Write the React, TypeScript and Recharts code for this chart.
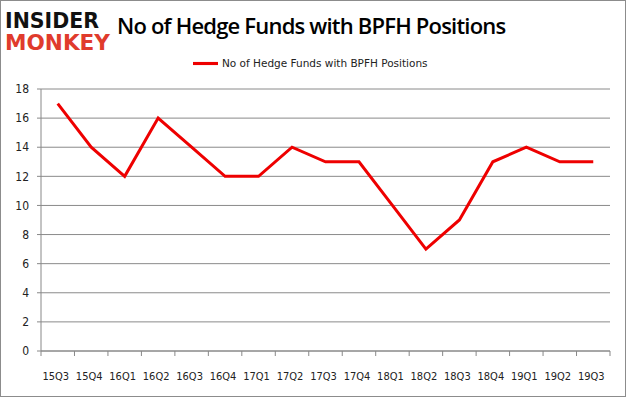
import React from 'react';
import { LineChart, Line, XAxis, YAxis, CartesianGrid, Legend } from 'recharts';

const quarters = ['15Q3', '15Q4', '16Q1', '16Q2', '16Q3', '16Q4', '17Q1', '17Q2', '17Q3', '17Q4', '18Q1', '18Q2', '18Q3', '18Q4', '19Q1', '19Q2', '19Q3'];
const funds = [17, 14, 12, 16, 14, 12, 12, 14, 13, 13, 10, 7, 9, 13, 14, 13, 13];
const yTicks = [0, 2, 4, 6, 8, 10, 12, 14, 16, 18];
const seriesName = 'No of Hedge Funds with BPFH Positions';

const data = quarters.map((q, i) => ({ q, value: funds[i] }));

const STEP = (610 - 41) / quarters.length;

const QuarterTick = (props: any) => {
  const { x, y, payload, index } = props;
  const left = x - STEP / 2;
  return (
    <g>
      <line x1={left} x2={left} y1={y - 8} y2={y - 3} stroke="#888" />
      {index === quarters.length - 1 && (
        <line x1={x + STEP / 2} x2={x + STEP / 2} y1={y - 8} y2={y - 3} stroke="#888" />
      )}
      <text x={x - 2} y={y + 21} textAnchor="middle" fontSize={11} fill="#222" fontFamily="DejaVu Sans Condensed, DejaVu Sans">
        {payload.value}
      </text>
    </g>
  );
};

const App: React.FC = () => {
  return (
    <div style={{ position: 'absolute', left: 0, top: 0, width: 626, height: 397, background: '#fff', fontFamily: 'Noto Sans, sans-serif' }}>
      <div style={{ position: 'absolute', left: 0, top: 0, width: 624, height: 395, border: '1px solid #8c8c8c' }} />
      <svg style={{ position: 'absolute', left: 0, top: 0 }} width={160} height={64}>
        <text x={5} y={28} fontFamily="DejaVu Sans" fontWeight={900} fontSize={22} fill="#111" textLength={94} lengthAdjust="spacingAndGlyphs">
          INSIDER
        </text>
        <text x={5} y={50} fontFamily="DejaVu Sans" fontWeight={900} fontSize={21} fill="#e03b2c" textLength={105} lengthAdjust="spacingAndGlyphs">
          MONKEY
        </text>
      </svg>
      <div style={{ position: 'absolute', left: 117, top: 10, fontFamily: 'Open Sans', fontWeight: 600, fontSize: 22, lineHeight: '30px', color: '#000', whiteSpace: 'nowrap', letterSpacing: -0.8 }}>
        No of Hedge Funds with BPFH Positions
      </div>
      <LineChart width={626} height={397} data={data} margin={{ top: 71, right: 16, left: 0, bottom: 16 }}>
        <CartesianGrid vertical={false} stroke="#8a8a8a" />
        <XAxis
          dataKey="q"
          scale="band"
          height={30}
          stroke="#888"
          tickLine={false}
          tick={<QuarterTick />}
          interval={0}
        />
        <YAxis
          width={41}
          domain={[0, 18]}
          ticks={yTicks}
          stroke="#888"
          tickSize={4}
          tickMargin={8}
          tick={{ fontSize: 12, fill: '#222', fontFamily: 'DejaVu Sans Condensed, DejaVu Sans' }}
          interval={0}
        />
        <Legend
          verticalAlign="top"
          align="left"
          iconType="plainline"
          iconSize={25}
          height={18}
          wrapperStyle={{ top: 51, left: 193, fontSize: 10.5, fontFamily: 'DejaVu Sans' }}
          formatter={(v: string) => <span style={{ color: '#222' }}>{v}</span>}
        />
        <Line
          name={seriesName}
          type="linear"
          dataKey="value"
          stroke="#ee0000"
          strokeWidth={3}
          dot={false}
          isAnimationActive={false}
        />
      </LineChart>
    </div>
  );
};

export default App;
